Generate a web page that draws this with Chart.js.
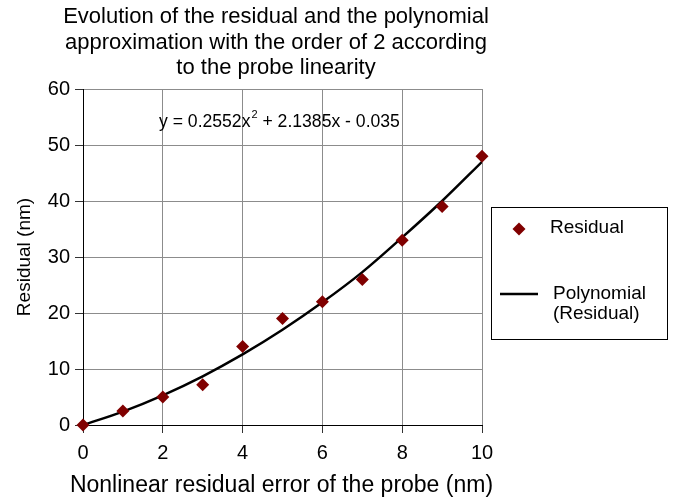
<!DOCTYPE html>
<html>
<head>
<meta charset="utf-8">
<script src="https://cdn.jsdelivr.net/npm/chart.js@4"></script>
<style>
  html, body { margin: 0; padding: 0; background: #fff; }
  #wrap { width: 680px; height: 502px; }
</style>
</head>
<body>
<div id="wrap"><canvas id="c" width="680" height="502"></canvas></div>
<script>
// ---- data ----
const xValues = [0, 1, 2, 3, 4, 5, 6, 7, 8, 9, 10];
const residual = [0, 2.5, 5.0, 7.2, 14.0, 19.0, 22.0, 26.0, 33.0, 39.0, 48.0];
const polynomialFit = [0, 2.4, 5.3, 8.7, 12.6, 17.0, 21.9, 27.3, 33.5, 40.0, 47.0];
const xTicks = [0, 2, 4, 6, 8, 10];
const yTicks = [0, 10, 20, 30, 40, 50, 60];
const titleLines = [
  "Evolution of the residual and the polynomial",
  "approximation with the order of 2 according",
  "to the probe linearity"
];
const equationParts = ["y = 0.2552x", "2", " + 2.1385x - 0.035"];
const legendLabels = ["Residual", ["Polynomial", "(Residual)"]];
const xTitle = "Nonlinear residual error of the probe (nm)";
const yTitle = "Residual (nm)";

const FONT = "'Liberation Sans', Arial, Helvetica, sans-serif";
const MARKER = "#800000";

const overlay = {
  id: "overlay",
  afterDraw(chart) {
    const ctx = chart.ctx;
    ctx.save();
    ctx.fillStyle = "#000";
    // title
    ctx.font = "22px " + FONT;
    ctx.textAlign = "center";
    ctx.textBaseline = "middle";
    const tY = [17, 43, 68];
    titleLines.forEach((t, i) => ctx.fillText(t, 276, tY[i]));

    // x axis title (drawn here so it is not squeezed to the axis width)
    ctx.font = "23px " + FONT;
    const xa = chart.scales.x;
    ctx.fillText(xTitle, (xa.left + xa.right) / 2 - 1, 486);

    // equation
    ctx.textAlign = "left";
    ctx.textBaseline = "middle";
    let ex = 159, ey = 122;
    ctx.font = "17.6px " + FONT;
    ctx.fillText(equationParts[0], ex, ey);
    ex += ctx.measureText(equationParts[0]).width;
    ctx.font = "11px " + FONT;
    ctx.fillText(equationParts[1], ex + 1, ey - 7);
    ex += ctx.measureText(equationParts[1]).width + 1;
    ctx.font = "17.6px " + FONT;
    ctx.fillText(equationParts[2], ex, ey);

    // legend
    ctx.strokeStyle = "#000";
    ctx.lineWidth = 1;
    ctx.strokeRect(491.5, 207.5, 176, 132);
    // diamond
    ctx.fillStyle = MARKER;
    ctx.beginPath();
    const dx = 519, dy = 229, r = 6.5;
    ctx.moveTo(dx, dy - r); ctx.lineTo(dx + r, dy); ctx.lineTo(dx, dy + r); ctx.lineTo(dx - r, dy);
    ctx.closePath(); ctx.fill();
    ctx.fillStyle = "#000";
    ctx.font = "19px " + FONT;
    ctx.fillText(legendLabels[0], 550, 228);
    // line sample
    ctx.lineWidth = 2.5;
    ctx.beginPath(); ctx.moveTo(500, 294); ctx.lineTo(538, 294); ctx.stroke();
    ctx.fillText(legendLabels[1][0], 553, 294);
    ctx.fillText(legendLabels[1][1], 553, 314);
    ctx.restore();
  }
};

new Chart(document.getElementById("c"), {
  type: "scatter",
  data: {
    datasets: [
      {
        label: "Polynomial (Residual)",
        data: xValues.map((x, i) => ({ x: x, y: polynomialFit[i] })),
        showLine: true,
        borderColor: "#000",
        borderWidth: 2.5,
        pointRadius: 0,
        cubicInterpolationMode: "monotone",
        order: 2
      },
      {
        label: "Residual",
        data: xValues.map((x, i) => ({ x: x, y: residual[i] })),
        showLine: false,
        pointStyle: "rectRot",
        pointRadius: 6.5,
        backgroundColor: MARKER,
        borderColor: MARKER,
        borderWidth: 0,
        clip: false,
        order: 1
      }
    ]
  },
  options: {
    responsive: false,
    animation: false,
    devicePixelRatio: 1,
    layout: { padding: { left: 0, right: 198, top: 89, bottom: 0 } },
    plugins: {
      legend: { display: false },
      title: { display: false },
      tooltip: { enabled: false }
    },
    scales: {
      x: {
        type: "linear",
        min: 0, max: 10,
        afterBuildTicks(scale) { scale.ticks = xTicks.map(v => ({ value: v })); },
        afterFit(scale) { scale.height = 77; },
        grid: { color: "#8c8c8c", lineWidth: 1, tickLength: 8, tickColor: "#333" },
        border: { color: "#000", width: 1 },
        ticks: { color: "#000", font: { family: FONT, size: 20 }, padding: 8, maxRotation: 0 },
        title: { display: false }
      },
      y: {
        type: "linear",
        min: 0, max: 60,
        afterBuildTicks(scale) { scale.ticks = yTicks.map(v => ({ value: v })); },
        afterFit(scale) { scale.width = 83; },
        grid: { color: "#8c8c8c", lineWidth: 1, tickLength: 8, tickColor: "#333" },
        border: { color: "#000", width: 1 },
        ticks: { color: "#000", font: { family: FONT, size: 20 }, padding: 5 },
        title: { display: true, text: yTitle, color: "#000", font: { family: FONT, size: 19 }, padding: { top: 13, bottom: 0 } }
      }
    }
  },
  plugins: [overlay]
});
</script>
</body>
</html>
